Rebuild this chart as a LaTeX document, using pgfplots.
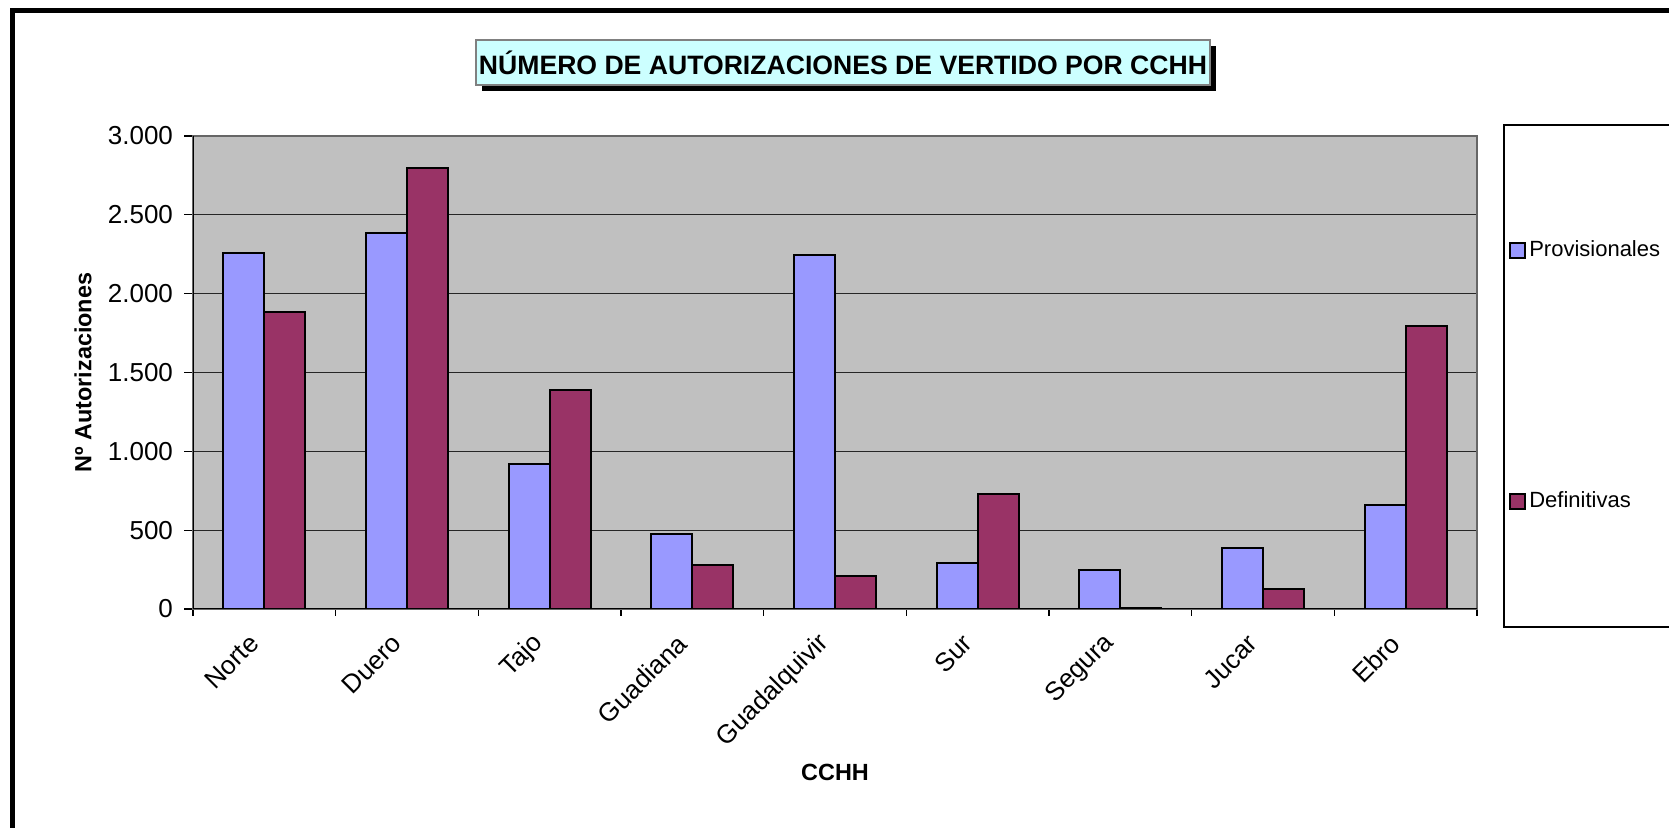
\documentclass[border=0pt]{standalone}
\usepackage{fontspec}
\setmainfont{Liberation Sans}
\usepackage{pgfplots}
\pgfplotsset{compat=1.18}
\definecolor{prov}{HTML}{9999FF}
\definecolor{defi}{HTML}{993366}
\definecolor{plotbg}{HTML}{C0C0C0}
\definecolor{titlebg}{HTML}{CCFFFF}
\begin{document}
\begin{tikzpicture}[x=1pt,y=1pt]
\useasboundingbox (0,0) rectangle (834.5,414);
\fill[white] (0,0) rectangle (834.5,414);
\draw[line width=2.5pt] (6.25,-20) -- (6.25,408.75) -- (860,408.75);
% title
\fill[black] (241,368.5) rectangle (608,391);
\draw[gray, fill=titlebg, line width=0.6pt] (238,371.5) rectangle (605,394);
\node[font=\bfseries\fontsize{13.3}{16}\selectfont] at (421.5,382.75) {NÚMERO DE AUTORIZACIONES DE VERTIDO POR CCHH};
% legend frame
\draw[black, line width=0.8pt] (860,351.5) -- (752,351.5) -- (752,100.5) -- (860,100.5);
\begin{axis}[
  at={(96.5pt,109.5pt)}, anchor=south west,
  scale only axis, width=642pt, height=236.5pt,
  xmin=-0.5, xmax=8.5, ymin=0, ymax=3000,
  ytick={0,500,...,3000},
  xtick={0,...,8},
  xticklabels={Norte,Duero,Tajo,Guadiana,Guadalquivir,Sur,Segura,Jucar,Ebro},
  minor xtick={-0.5,0.5,...,8.5},
  xtick pos=lower, ytick pos=left,
  tick align=outside,
  major tick length=4.5pt,
  minor tick length=3.5pt,
  major x tick style={draw=none},
  tick style={black, line width=0.6pt},
  axis background/.style={fill=plotbg},
  axis line style={draw=gray!80!black, line width=0.9pt},
  ymajorgrids,
  major y grid style={black!85, line width=0.5pt},
  /pgf/number format/1000 sep={.},
  /pgf/number format/assume math mode=true,
  tick label style={font=\fontsize{13}{15}\selectfont},
  yticklabel style={xshift=-2pt},
  xticklabel style={xshift=-5pt, yshift=-10.5pt, rotate=45, anchor=east, inner sep=0pt},
  every axis y label/.style={at={(axis description cs:-0.0857,0.5)}, rotate=90, anchor=center, font=\bfseries\fontsize{11.7}{14}\selectfont},
  every axis x label/.style={at={(axis description cs:0.5,-0.3446)}, anchor=center, font=\bfseries\fontsize{11.7}{14}\selectfont},
  ylabel={Nº Autorizaciones},
  xlabel={CCHH},
  legend cell align=left,
  legend style={at={(rel axis cs:1.0245,0.4926)}, anchor=west, draw=none, fill=none,
    font=\fontsize{11}{13}\selectfont, row sep=113pt, inner sep=0pt, nodes={inner sep=1.5pt}},
]
\addplot[ybar, bar width=0.2875, bar shift=-0.14375, fill=prov, draw=black, line width=1pt,
  legend image code/.code={\draw[fill=prov, draw=black, line width=0.9pt] (0pt,-3.9pt) rectangle (7.8pt,3.9pt);}]
  coordinates {(0,2255) (1,2383) (2,918) (3,476) (4,2244) (5,292) (6,246) (7,390) (8,658)};
\addlegendentry{Provisionales}
\addplot[ybar, bar width=0.2875, bar shift=0.14375, fill=defi, draw=black, line width=1pt,
  legend image code/.code={\draw[fill=defi, draw=black, line width=0.9pt] (0pt,-3.9pt) rectangle (7.8pt,3.9pt);}]
  coordinates {(0,1882) (1,2799) (2,1389) (3,279) (4,212) (5,732) (6,8) (7,125) (8,1797)};
\addlegendentry{Definitivas}
\draw[black, line width=0.8pt] (rel axis cs:0,1) -- (rel axis cs:0,0) -- (rel axis cs:1,0);
\end{axis}
\end{tikzpicture}
\end{document}
